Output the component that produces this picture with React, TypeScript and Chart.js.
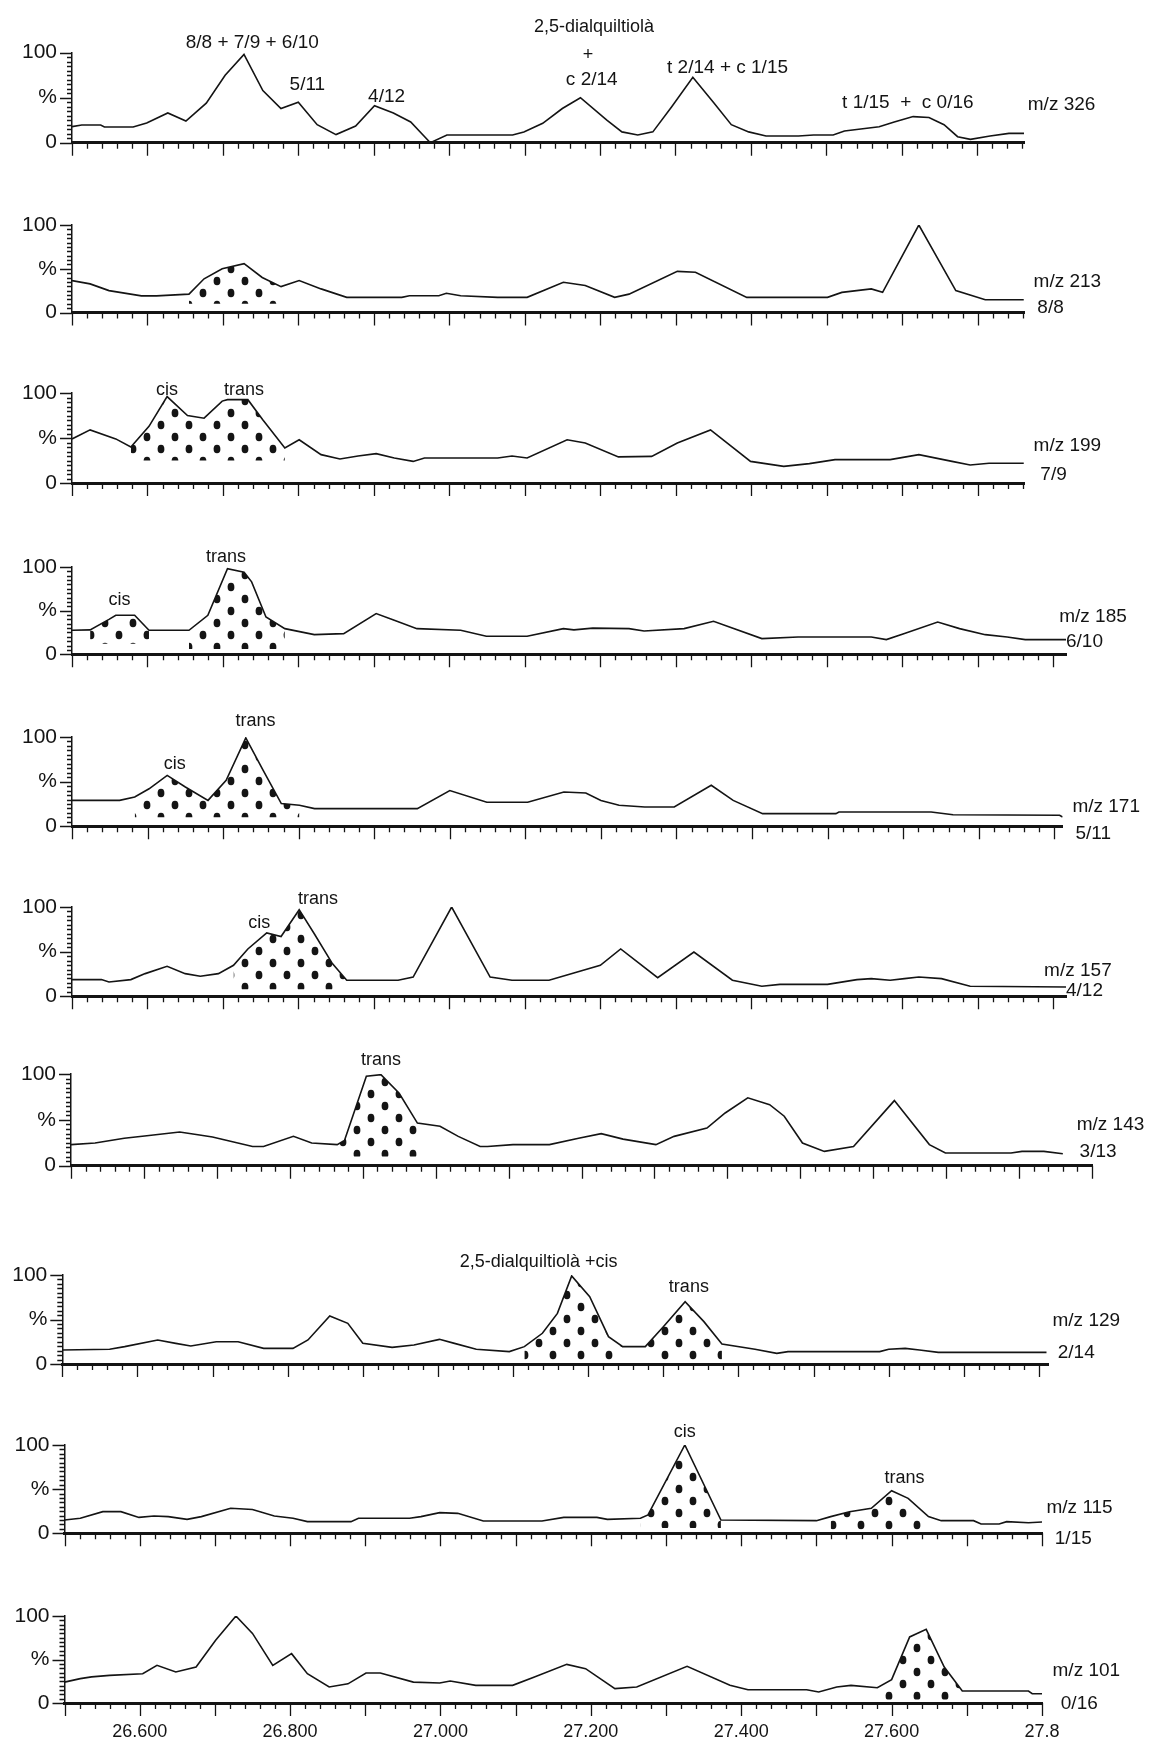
import React, { useEffect, useRef } from 'react';
import { Chart, registerables } from 'chart.js';

Chart.register(...registerables);

const FONT = "'Liberation Sans', Arial, sans-serif";
const INK = '#141414';
const X_MIN = 26.5;
const MINOR_STEP = 0.02;

// ---------------- data: retention time (min) , relative intensity (%) ----------------
const mz326: [number, number][] = [
  [26.500, 17.8], [26.513, 19.6], [26.538, 19.6], [26.543, 17.4], [26.581, 17.4], [26.599, 22], [26.627, 33],
  [26.651, 24], [26.678, 44], [26.703, 75], [26.728, 98], [26.753, 58], [26.777, 38], [26.800, 45], [26.825, 20],
  [26.850, 9], [26.876, 18.5], [26.901, 41], [26.926, 33], [26.949, 23], [26.975, 0], [26.997, 8.5], [27.084, 8.5],
  [27.099, 12], [27.124, 21.5], [27.150, 38], [27.174, 50], [27.209, 25], [27.229, 12], [27.250, 8.5], [27.270, 12],
  [27.295, 40], [27.323, 72.6], [27.351, 44], [27.374, 20], [27.397, 12], [27.420, 7.4], [27.463, 7.4], [27.483, 8.5],
  [27.509, 8.5], [27.524, 13], [27.570, 17.8], [27.590, 23], [27.615, 29], [27.636, 28], [27.656, 20], [27.674, 6.7],
  [27.691, 3.7], [27.717, 7.4], [27.742, 10.4], [27.762, 10.4],
];
const mz213: [number, number][] = [
  [26.500, 36.5], [26.524, 32.7], [26.549, 25], [26.592, 19], [26.612, 19], [26.655, 21], [26.675, 38.5], [26.699, 50],
  [26.728, 55.8], [26.752, 40], [26.777, 29.6], [26.801, 36.5], [26.830, 27], [26.864, 17.3], [26.937, 17.3],
  [26.947, 19.2], [26.986, 19.2], [26.996, 22], [27.015, 19.2], [27.064, 17.3], [27.103, 17.3], [27.151, 34.6],
  [27.180, 30.8], [27.219, 17.3], [27.238, 21], [27.302, 47], [27.326, 46], [27.394, 17.3], [27.501, 17.3],
  [27.520, 23], [27.559, 27], [27.574, 23], [27.622, 100], [27.671, 25], [27.710, 14.6], [27.761, 14.6],
];
const mz199: [number, number][] = [
  [26.500, 48.9], [26.524, 59], [26.558, 49], [26.578, 40], [26.602, 63], [26.626, 96], [26.653, 75], [26.675, 72],
  [26.699, 91], [26.706, 92.6], [26.733, 92.6], [26.753, 70], [26.782, 39], [26.801, 48], [26.830, 31.5], [26.855, 26.7],
  [26.879, 30], [26.903, 32.6], [26.927, 27.8], [26.952, 24], [26.967, 27.8], [27.064, 27.8], [27.083, 30],
  [27.103, 27.8], [27.156, 48], [27.180, 44.4], [27.224, 29], [27.268, 29.6], [27.302, 44.4], [27.346, 59],
  [27.399, 24], [27.443, 18.5], [27.477, 21.5], [27.511, 26], [27.584, 26], [27.622, 31.5], [27.666, 24], [27.690, 20],
  [27.715, 22], [27.761, 22],
];
const mz185: [number, number][] = [
  [26.500, 27.5], [26.524, 28], [26.549, 40], [26.558, 44.7], [26.583, 44.7], [26.602, 27.5], [26.655, 27.5],
  [26.680, 44.7], [26.706, 98], [26.728, 94], [26.738, 83], [26.757, 42.7], [26.782, 29.4], [26.821, 22.5],
  [26.860, 23.7], [26.903, 46.6], [26.927, 39], [26.957, 29.4], [27.015, 27.5], [27.049, 20.6], [27.103, 20.6],
  [27.151, 29.4], [27.165, 28], [27.190, 30], [27.238, 29.4], [27.258, 26.7], [27.311, 29.4], [27.350, 37.8],
  [27.414, 18], [27.462, 19.8], [27.559, 19.8], [27.579, 16.8], [27.603, 23.7], [27.647, 37], [27.676, 29.4],
  [27.710, 22.5], [27.739, 19.8], [27.763, 16.8], [27.817, 16.8],
];
const mz171: [number, number][] = [
  [26.500, 29], [26.563, 29], [26.583, 32.8], [26.602, 42], [26.626, 57], [26.650, 44], [26.680, 29], [26.704, 51.5],
  [26.730, 99], [26.753, 62.7], [26.777, 25.4], [26.801, 23.5], [26.821, 19.8], [26.957, 19.8], [27.000, 40],
  [27.049, 27], [27.103, 27], [27.151, 38.4], [27.180, 37.3], [27.200, 29], [27.224, 23.5], [27.258, 21.6],
  [27.297, 21.6], [27.346, 46], [27.375, 29], [27.414, 14.2], [27.511, 14.2], [27.515, 16], [27.637, 16],
  [27.666, 13], [27.807, 12.3], [27.811, 10.4],
];
const mz157: [number, number][] = [
  [26.500, 18.7], [26.539, 18.7], [26.549, 16], [26.578, 18.7], [26.597, 25.4], [26.626, 33.6], [26.650, 25.4],
  [26.670, 22.4], [26.694, 25.4], [26.714, 34.7], [26.733, 53], [26.758, 71], [26.777, 67], [26.801, 97],
  [26.821, 70], [26.845, 36.6], [26.864, 18], [26.932, 18], [26.952, 21.6], [27.003, 100], [27.054, 21.6],
  [27.083, 18], [27.132, 18], [27.200, 34.7], [27.227, 53], [27.276, 20.9], [27.324, 49.6], [27.375, 18],
  [27.414, 11.2], [27.438, 13.4], [27.501, 13.4], [27.540, 18.7], [27.559, 19.8], [27.584, 18], [27.603, 19.8],
  [27.622, 21.6], [27.652, 19.8], [27.690, 11.2], [27.817, 10.4],
];
const mz143: [number, number][] = [
  [26.500, 23], [26.533, 24.7], [26.573, 30], [26.604, 32.7], [26.649, 36.7], [26.674, 33.8], [26.694, 31.3],
  [26.749, 21], [26.764, 21], [26.805, 32], [26.830, 24.7], [26.865, 23], [26.875, 27.6], [26.905, 97.5],
  [26.925, 99.3], [26.950, 79], [26.975, 46.5], [27.006, 43], [27.031, 32], [27.061, 21], [27.071, 21],
  [27.106, 23], [27.156, 23], [27.196, 30], [27.227, 35], [27.257, 29], [27.302, 23], [27.327, 32], [27.372, 41],
  [27.397, 57.5], [27.428, 74], [27.458, 66.5], [27.478, 54], [27.503, 24.7], [27.533, 15.6], [27.573, 21],
  [27.629, 71], [27.677, 23], [27.699, 13.8], [27.789, 13.8], [27.804, 15.6], [27.834, 15.6], [27.860, 13],
];
const mz129: [number, number][] = [
  [26.500, 15.7], [26.563, 16.5], [26.583, 19.5], [26.627, 27], [26.651, 23.2], [26.671, 20.2], [26.705, 25],
  [26.734, 25], [26.768, 17.6], [26.807, 17.6], [26.827, 27], [26.856, 54], [26.880, 45.7], [26.900, 23.2],
  [26.939, 18.7], [26.968, 21.3], [27.002, 27.7], [27.022, 23.2], [27.051, 16.5], [27.095, 13.9], [27.115, 19.5],
  [27.139, 34.5], [27.159, 56.9], [27.178, 99], [27.202, 75.7], [27.227, 30.7], [27.246, 19.5], [27.276, 19.5],
  [27.300, 41.9], [27.329, 70], [27.354, 47.6], [27.378, 22.5], [27.422, 16.5], [27.451, 12], [27.466, 13.9],
  [27.588, 13.9], [27.600, 16.5], [27.622, 17.6], [27.641, 15.7], [27.666, 13.1], [27.810, 13.1],
];
const mz115: [number, number][] = [
  [26.500, 15], [26.521, 17], [26.551, 24.5], [26.575, 24.5], [26.599, 18], [26.619, 19.6], [26.638, 18.9],
  [26.663, 15.8], [26.682, 18.9], [26.721, 28.3], [26.750, 27], [26.779, 19.6], [26.804, 17], [26.823, 13.2],
  [26.881, 13.2], [26.891, 17], [26.959, 17], [26.974, 18.9], [26.999, 23.4], [27.023, 22.6], [27.057, 14],
  [27.135, 14], [27.164, 18], [27.208, 18], [27.222, 15.8], [27.266, 17], [27.276, 20.8], [27.325, 100],
  [27.373, 15], [27.500, 14.3], [27.519, 18.9], [27.544, 24.5], [27.573, 28.3], [27.600, 48.3], [27.622, 39.6],
  [27.649, 18.9], [27.666, 14.3], [27.709, 14.3], [27.719, 10.6], [27.743, 10.6], [27.753, 13.2], [27.782, 12],
  [27.807, 13.2],
];
const mz101: [number, number][] = [
  [26.500, 24], [26.521, 28], [26.536, 30], [26.560, 31.8], [26.604, 33.7], [26.623, 43.3], [26.648, 35.6],
  [26.675, 41.4], [26.701, 72], [26.728, 100], [26.750, 80], [26.777, 43.3], [26.802, 56.7], [26.823, 33.7],
  [26.852, 18.4], [26.877, 22], [26.901, 34.5], [26.920, 34.5], [26.964, 24], [26.999, 23], [27.013, 25.3],
  [27.047, 20.3], [27.096, 20.3], [27.125, 30], [27.168, 44.4], [27.193, 39.5], [27.232, 16.5], [27.261, 18.4],
  [27.328, 42.1], [27.385, 20.3], [27.409, 15.3], [27.487, 15.3], [27.503, 12.6], [27.527, 18.4], [27.546, 20.3],
  [27.581, 17.6], [27.600, 26.8], [27.624, 75.9], [27.646, 84.7], [27.670, 41.4], [27.694, 13.8], [27.782, 13.8],
  [27.787, 10.7], [27.808, 10.7],
];

// shaded (dotted) peak ranges: [from, to, base %]
const mz213Dotted = [[26.655, 26.777, 10]];
const mz199Dotted = [[26.578, 26.782, 25]];
const mz185Dotted = [[26.524, 26.602, 12], [26.655, 26.782, 6]];
const mz171Dotted = [[26.583, 26.680, 10], [26.680, 26.801, 10]];
const mz157Dotted = [[26.714, 26.864, 8]];
const mz143Dotted = [[26.865, 26.975, 10]];
const mz129Dotted = [[27.115, 27.246, 4], [27.276, 27.378, 4]];
const mz115Dotted = [[27.266, 27.373, 6], [27.519, 27.649, 4]];
const mz101Dotted = [[27.581, 27.694, 4]];

// axis tick labels
const xTickValues = [26.6, 26.8, 27.0, 27.2, 27.4, 27.6, 27.8];
const xTickLabels = ['26.600', '26.800', '27.000', '27.200', '27.400', '27.600', '27.8'];
const yTickValues = [0, 50, 100];
const yTickLabels = ['0', '%', '100'];

type Note = { text: string; t: number; v: number; size?: number; align?: CanvasTextAlign };

// text labels (position in minutes / %)
const mz326Notes: Note[] = [
  { text: '8/8 + 7/9 + 6/10', t: 26.739, v: 110.8, size: 19 },
  { text: '5/11', t: 26.812, v: 64, size: 19 },
  { text: '4/12', t: 26.917, v: 51, size: 19 },
  { text: '2,5-dialquiltiolà', t: 27.192, v: 128.9, size: 18 },
  { text: '+', t: 27.184, v: 97.4, size: 18 },
  { text: 'c 2/14', t: 27.189, v: 69.7, size: 19 },
  { text: 't 2/14 + c 1/15', t: 27.369, v: 83, size: 19 },
  { text: 't 1/15  +  c 0/16', t: 27.608, v: 44, size: 19 },
  { text: 'm/z 326', t: 27.767, v: 41.9, align: 'left' },
];
const mz213Notes: Note[] = [
  { text: 'm/z 213', t: 27.774, v: 34.6, align: 'left' },
  { text: '8/8', t: 27.779, v: 5.8, align: 'left' },
];
const mz199Notes: Note[] = [
  { text: 'cis', t: 26.626, v: 103 },
  { text: 'trans', t: 26.728, v: 103 },
  { text: 'm/z 199', t: 27.774, v: 41.8, align: 'left' },
  { text: '7/9', t: 27.783, v: 9.2, align: 'left' },
];
const mz185Notes: Note[] = [
  { text: 'cis', t: 26.563, v: 61.9 },
  { text: 'trans', t: 26.704, v: 111.5 },
  { text: 'm/z 185', t: 27.808, v: 42.7, align: 'left' },
  { text: '6/10', t: 27.817, v: 14.1, align: 'left' },
];
const mz171Notes: Note[] = [
  { text: 'cis', t: 26.636, v: 70.2 },
  { text: 'trans', t: 26.743, v: 117.6 },
  { text: 'm/z 171', t: 27.824, v: 21.6, align: 'left' },
  { text: '5/11', t: 27.828, v: -8.2, align: 'left' },
];
const mz157Notes: Note[] = [
  { text: 'cis', t: 26.748, v: 81.5 },
  { text: 'trans', t: 26.826, v: 109.4 },
  { text: 'm/z 157', t: 27.788, v: 29.1, align: 'left' },
  { text: '4/12', t: 27.817, v: 6.7, align: 'left' },
];
const mz143Notes: Note[] = [
  { text: 'trans', t: 26.925, v: 115.6 },
  { text: 'm/z 143', t: 27.879, v: 44.7, align: 'left' },
  { text: '3/13', t: 27.883, v: 15, align: 'left' },
];
const mz129Notes: Note[] = [
  { text: '2,5-dialquiltiolà +cis', t: 27.134, v: 114.9 },
  { text: 'trans', t: 27.334, v: 86.9 },
  { text: 'm/z 129', t: 27.818, v: 48.5, align: 'left' },
  { text: '2/14', t: 27.825, v: 12.4, align: 'left' },
];
const mz115Notes: Note[] = [
  { text: 'cis', t: 27.325, v: 115 },
  { text: 'trans', t: 27.617, v: 62.3 },
  { text: 'm/z 115', t: 27.806, v: 29, align: 'left' },
  { text: '1/15', t: 27.817, v: -6.5, align: 'left' },
];
const mz101Notes: Note[] = [
  { text: 'm/z 101', t: 27.814, v: 37.2, align: 'left' },
  { text: '0/16', t: 27.825, v: -0.5, align: 'left' },
];

// ---------------- layout (pixels) ----------------
type Geo = { left: number; right: number; xmax: number; y100: number; y0: number };
type PanelCfg = { series: [number, number][]; dotted: number[][]; notes: Note[]; geo: Geo; bottom?: boolean };

const PANELS: PanelCfg[] = [
  { series: mz326, dotted: [], notes: mz326Notes, geo: { left: 72, right: 1024, xmax: 27.762, y100: 52.7, y0: 142.7 } },
  { series: mz213, dotted: mz213Dotted, notes: mz213Notes, geo: { left: 72, right: 1024.5, xmax: 27.762, y100: 224.5, y0: 312 } },
  { series: mz199, dotted: mz199Dotted, notes: mz199Notes, geo: { left: 72, right: 1024.5, xmax: 27.762, y100: 393.3, y0: 483.3 } },
  { series: mz185, dotted: mz185Dotted, notes: mz185Notes, geo: { left: 72, right: 1066, xmax: 27.817, y100: 566.7, y0: 654 } },
  { series: mz171, dotted: mz171Dotted, notes: mz171Notes, geo: { left: 72, right: 1062.6, xmax: 27.811, y100: 736.7, y0: 826 } },
  { series: mz157, dotted: mz157Dotted, notes: mz157Notes, geo: { left: 72, right: 1066, xmax: 27.817, y100: 906.7, y0: 996 } },
  { series: mz143, dotted: mz143Dotted, notes: mz143Notes, geo: { left: 71, right: 1092, xmax: 27.9, y100: 1074.3, y0: 1166 } },
  { series: mz129, dotted: mz129Dotted, notes: mz129Notes, geo: { left: 62.3, right: 1048, xmax: 27.812, y100: 1275, y0: 1364 } },
  { series: mz115, dotted: mz115Dotted, notes: mz115Notes, geo: { left: 64.5, right: 1042, xmax: 27.8, y100: 1445, y0: 1533.3 } },
  { series: mz101, dotted: mz101Dotted, notes: mz101Notes, geo: { left: 64.5, right: 1042, xmax: 27.8, y100: 1616, y0: 1703 }, bottom: true },
];

const W = 1149;
const PAD_BOTTOM = 44;
const Y_AXIS_W = 60;
const X_AXIS_H = 40;

function Panel({ cfg }: { cfg: PanelCfg }) {
  const ref = useRef<HTMLCanvasElement>(null);
  const g = cfg.geo;
  const padTop = Math.min(g.y100, 58);
  const plotH = g.y0 - g.y100;
  const H = Math.ceil(padTop + plotH + PAD_BOTTOM);
  const top = g.y100 - padTop;

  useEffect(() => {
    const canvas = ref.current!;
    const ctx = canvas.getContext('2d')!;
    const tile = document.createElement('canvas');
    tile.width = 28;
    tile.height = 24;
    const tg = tile.getContext('2d')!;
    tg.fillStyle = INK;
    const dot = (x: number, y: number) => {
      tg.beginPath();
      tg.ellipse(x, y, 3.4, 4.3, 0, 0, Math.PI * 2);
      tg.fill();
    };
    dot(7, 6);
    dot(21, 18);
    const pattern = ctx.createPattern(tile, 'repeat')!;

    const pts = cfg.series.map(([t, v]) => ({ x: t, y: v }));
    const datasets: any[] = [
      { data: pts, borderColor: INK, borderWidth: 1.6, pointRadius: 0, fill: false, tension: 0, order: 0 },
    ];
    cfg.dotted.forEach(([a, b, base]) => {
      datasets.push({
        data: pts.filter((p) => p.x >= a - 1e-9 && p.x <= b + 1e-9),
        borderWidth: 0,
        borderColor: 'rgba(0,0,0,0)',
        backgroundColor: pattern,
        pointRadius: 0,
        tension: 0,
        fill: { value: base },
        order: 1,
      });
    });

    const decor = {
      id: 'decor',
      afterDraw(chart: any) {
        const c = chart.ctx as CanvasRenderingContext2D;
        const a = chart.chartArea;
        const xs = chart.scales.x;
        const ys = chart.scales.y;
        c.save();
        c.strokeStyle = INK;
        c.lineWidth = 1.3;
        c.beginPath();
        for (const tk of xs.ticks) {
          const k = Math.round((tk.value - X_MIN) / MINOR_STEP);
          const px = Math.round(xs.getPixelForValue(tk.value)) + 0.5;
          const len = k % 5 === 0 ? 13 : 6;
          c.moveTo(px, a.bottom);
          c.lineTo(px, a.bottom + len);
        }
        for (const tk of ys.ticks) {
          const py = Math.round(ys.getPixelForValue(tk.value)) + 0.5;
          const len = tk.value % 50 === 0 ? 12 : 5;
          c.moveTo(a.left - len, py);
          c.lineTo(a.left, py);
        }
        c.stroke();
        c.fillStyle = INK;
        c.textBaseline = 'middle';
        for (const n of cfg.notes) {
          c.font = `${n.size ?? (n.align === 'left' ? 19 : 18)}px ${FONT}`;
          c.textAlign = n.align ?? 'center';
          c.fillText(n.text, xs.getPixelForValue(n.t), ys.getPixelForValue(n.v));
        }
        c.restore();
      },
    };

    const chart = new Chart(canvas, {
      type: 'line',
      data: { datasets },
      plugins: [decor],
      options: {
        responsive: false,
        animation: false,
        devicePixelRatio: 1,
        events: [],
        layout: {
          padding: {
            left: g.left - Y_AXIS_W,
            right: W - g.right,
            top: padTop,
            bottom: H - padTop - plotH - X_AXIS_H,
          },
        },
        plugins: { legend: { display: false }, tooltip: { enabled: false } },
        scales: {
          x: {
            type: 'linear',
            min: X_MIN,
            max: g.xmax,
            grid: { display: false, drawTicks: false },
            border: { display: true, color: INK, width: 3 },
            afterFit: (s: any) => {
              s.height = X_AXIS_H;
            },
            afterBuildTicks: (s: any) => {
              const ticks: { value: number }[] = [];
              for (let k = 0; ; k++) {
                const v = +(X_MIN + k * MINOR_STEP).toFixed(3);
                if (v > g.xmax + 1e-6) break;
                ticks.push({ value: v });
              }
              s.ticks = ticks;
            },
            ticks: {
              display: !!cfg.bottom,
              autoSkip: false,
              maxRotation: 0,
              padding: 18,
              color: INK,
              font: { family: FONT, size: 18 },
              callback: (value: any) => {
                const i = xTickValues.findIndex((v) => Math.abs(v - Number(value)) < 1e-6);
                return i >= 0 ? xTickLabels[i] : '';
              },
            },
          },
          y: {
            type: 'linear',
            min: 0,
            max: 100,
            grid: { display: false, drawTicks: false },
            border: { display: true, color: INK, width: 1.5 },
            afterFit: (s: any) => {
              s.width = Y_AXIS_W;
            },
            afterBuildTicks: (s: any) => {
              const ticks: { value: number }[] = [];
              for (let v = 0; v <= 100; v += 5) ticks.push({ value: v });
              s.ticks = ticks;
            },
            ticks: {
              autoSkip: false,
              padding: 15,
              color: INK,
              font: { family: FONT, size: 21 },
              callback: (value: any) => {
                const i = yTickValues.indexOf(Number(value));
                return i >= 0 ? yTickLabels[i] : '';
              },
            },
          },
        },
      } as any,
    });
    return () => chart.destroy();
  }, []);

  return (
    <canvas
      ref={ref}
      width={W}
      height={H}
      style={{ position: 'absolute', left: 0, top, width: W, height: H, display: 'block' }}
    />
  );
}

export default function App() {
  return (
    <div style={{ position: 'absolute', left: 0, top: 0, width: W, height: 1746, background: '#fff', overflow: 'hidden' }}>
      {PANELS.map((p, i) => (
        <Panel key={i} cfg={p} />
      ))}
    </div>
  );
}
